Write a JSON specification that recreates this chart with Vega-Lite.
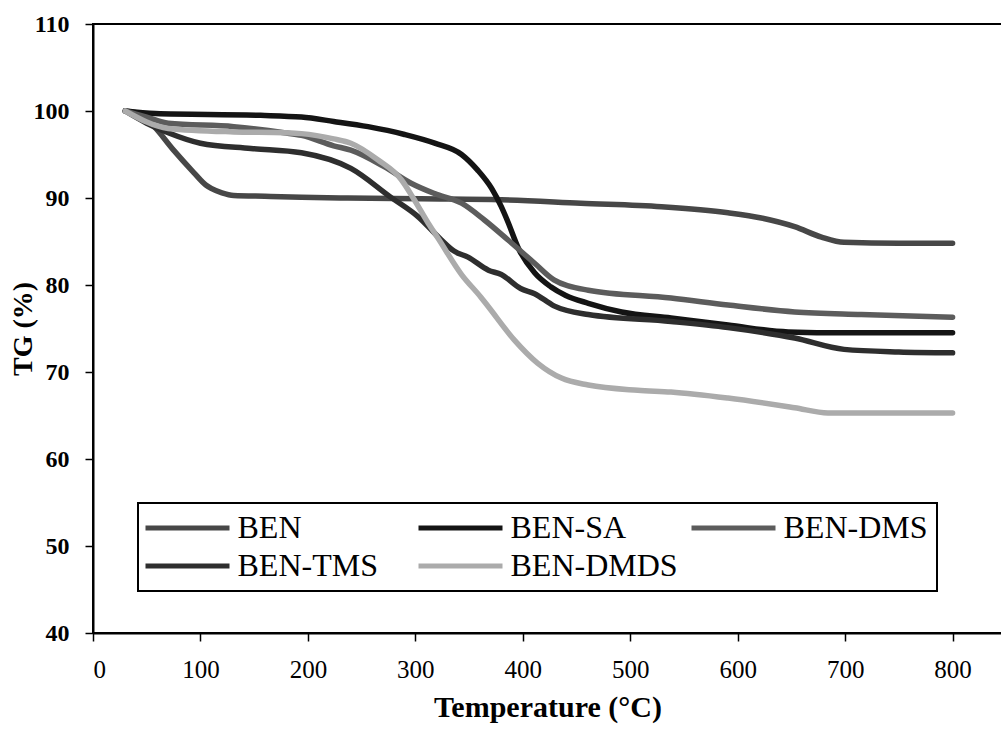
{
  "$schema": "https://vega.github.io/schema/vega-lite/v6.json",
  "width": 909,
  "height": 609,
  "autosize": "none",
  "padding": {"left": 93, "top": 24, "right": 0, "bottom": 97},
  "background": "white",
  "config": {
    "view": {"stroke": "black", "strokeWidth": 2},
    "font": "Liberation Serif"
  },
  "datasets": {
    "tg": [
      {"sample": "BEN", "T": 30, "TG": 100}, {"sample": "BEN", "T": 45, "TG": 99.6}, {"sample": "BEN", "T": 57, "TG": 98.2}, {"sample": "BEN", "T": 75, "TG": 95.5}, {"sample": "BEN", "T": 94, "TG": 92.9}, {"sample": "BEN", "T": 105, "TG": 91.5}, {"sample": "BEN", "T": 110, "TG": 91.1}, {"sample": "BEN", "T": 120, "TG": 90.6}, {"sample": "BEN", "T": 131, "TG": 90.3}, {"sample": "BEN", "T": 160, "TG": 90.2}, {"sample": "BEN", "T": 194, "TG": 90.1}, {"sample": "BEN", "T": 237, "TG": 90.0}, {"sample": "BEN", "T": 305, "TG": 89.9}, {"sample": "BEN", "T": 380, "TG": 89.8}, {"sample": "BEN", "T": 454, "TG": 89.4}, {"sample": "BEN", "T": 529, "TG": 89.0}, {"sample": "BEN", "T": 591, "TG": 88.3}, {"sample": "BEN", "T": 622, "TG": 87.7}, {"sample": "BEN", "T": 653, "TG": 86.7}, {"sample": "BEN", "T": 678, "TG": 85.5}, {"sample": "BEN", "T": 699, "TG": 84.9}, {"sample": "BEN", "T": 750, "TG": 84.8}, {"sample": "BEN", "T": 800, "TG": 84.8},
      {"sample": "BEN-SA", "T": 30, "TG": 100}, {"sample": "BEN-SA", "T": 58, "TG": 99.7}, {"sample": "BEN-SA", "T": 156, "TG": 99.5}, {"sample": "BEN-SA", "T": 194, "TG": 99.3}, {"sample": "BEN-SA", "T": 224, "TG": 98.8}, {"sample": "BEN-SA", "T": 256, "TG": 98.2}, {"sample": "BEN-SA", "T": 290, "TG": 97.3}, {"sample": "BEN-SA", "T": 318, "TG": 96.3}, {"sample": "BEN-SA", "T": 343, "TG": 95.0}, {"sample": "BEN-SA", "T": 358, "TG": 93.2}, {"sample": "BEN-SA", "T": 371, "TG": 91.1}, {"sample": "BEN-SA", "T": 380, "TG": 89.0}, {"sample": "BEN-SA", "T": 386, "TG": 87.3}, {"sample": "BEN-SA", "T": 396, "TG": 84.2}, {"sample": "BEN-SA", "T": 411, "TG": 81.4}, {"sample": "BEN-SA", "T": 426, "TG": 79.8}, {"sample": "BEN-SA", "T": 440, "TG": 78.8}, {"sample": "BEN-SA", "T": 461, "TG": 77.9}, {"sample": "BEN-SA", "T": 492, "TG": 76.9}, {"sample": "BEN-SA", "T": 538, "TG": 76.2}, {"sample": "BEN-SA", "T": 591, "TG": 75.4}, {"sample": "BEN-SA", "T": 647, "TG": 74.6}, {"sample": "BEN-SA", "T": 700, "TG": 74.5}, {"sample": "BEN-SA", "T": 800, "TG": 74.5},
      {"sample": "BEN-DMS", "T": 30, "TG": 100}, {"sample": "BEN-DMS", "T": 50, "TG": 99.3}, {"sample": "BEN-DMS", "T": 70, "TG": 98.6}, {"sample": "BEN-DMS", "T": 131, "TG": 98.2}, {"sample": "BEN-DMS", "T": 178, "TG": 97.5}, {"sample": "BEN-DMS", "T": 194, "TG": 97.2}, {"sample": "BEN-DMS", "T": 224, "TG": 96.0}, {"sample": "BEN-DMS", "T": 240, "TG": 95.5}, {"sample": "BEN-DMS", "T": 271, "TG": 93.6}, {"sample": "BEN-DMS", "T": 296, "TG": 91.7}, {"sample": "BEN-DMS", "T": 318, "TG": 90.5}, {"sample": "BEN-DMS", "T": 343, "TG": 89.4}, {"sample": "BEN-DMS", "T": 364, "TG": 87.5}, {"sample": "BEN-DMS", "T": 386, "TG": 85.2}, {"sample": "BEN-DMS", "T": 411, "TG": 82.5}, {"sample": "BEN-DMS", "T": 429, "TG": 80.6}, {"sample": "BEN-DMS", "T": 461, "TG": 79.4}, {"sample": "BEN-DMS", "T": 538, "TG": 78.5}, {"sample": "BEN-DMS", "T": 591, "TG": 77.7}, {"sample": "BEN-DMS", "T": 653, "TG": 76.9}, {"sample": "BEN-DMS", "T": 715, "TG": 76.6}, {"sample": "BEN-DMS", "T": 800, "TG": 76.3},
      {"sample": "BEN-TMS", "T": 30, "TG": 100}, {"sample": "BEN-TMS", "T": 50, "TG": 98.6}, {"sample": "BEN-TMS", "T": 70, "TG": 97.5}, {"sample": "BEN-TMS", "T": 100, "TG": 96.3}, {"sample": "BEN-TMS", "T": 147, "TG": 95.7}, {"sample": "BEN-TMS", "T": 194, "TG": 95.2}, {"sample": "BEN-TMS", "T": 240, "TG": 93.4}, {"sample": "BEN-TMS", "T": 277, "TG": 90.1}, {"sample": "BEN-TMS", "T": 303, "TG": 87.8}, {"sample": "BEN-TMS", "T": 324, "TG": 85.2}, {"sample": "BEN-TMS", "T": 336, "TG": 83.9}, {"sample": "BEN-TMS", "T": 349, "TG": 83.2}, {"sample": "BEN-TMS", "T": 368, "TG": 81.7}, {"sample": "BEN-TMS", "T": 380, "TG": 81.2}, {"sample": "BEN-TMS", "T": 398, "TG": 79.6}, {"sample": "BEN-TMS", "T": 411, "TG": 79.0}, {"sample": "BEN-TMS", "T": 429, "TG": 77.6}, {"sample": "BEN-TMS", "T": 461, "TG": 76.6}, {"sample": "BEN-TMS", "T": 538, "TG": 75.8}, {"sample": "BEN-TMS", "T": 591, "TG": 75.1}, {"sample": "BEN-TMS", "T": 653, "TG": 73.9}, {"sample": "BEN-TMS", "T": 699, "TG": 72.6}, {"sample": "BEN-TMS", "T": 750, "TG": 72.3}, {"sample": "BEN-TMS", "T": 800, "TG": 72.2},
      {"sample": "BEN-DMDS", "T": 30, "TG": 100}, {"sample": "BEN-DMDS", "T": 70, "TG": 98.0}, {"sample": "BEN-DMDS", "T": 131, "TG": 97.6}, {"sample": "BEN-DMDS", "T": 178, "TG": 97.5}, {"sample": "BEN-DMDS", "T": 194, "TG": 97.4}, {"sample": "BEN-DMDS", "T": 224, "TG": 96.8}, {"sample": "BEN-DMDS", "T": 240, "TG": 96.3}, {"sample": "BEN-DMDS", "T": 265, "TG": 94.4}, {"sample": "BEN-DMDS", "T": 287, "TG": 92.1}, {"sample": "BEN-DMDS", "T": 299, "TG": 89.8}, {"sample": "BEN-DMDS", "T": 312, "TG": 87.1}, {"sample": "BEN-DMDS", "T": 321, "TG": 85.4}, {"sample": "BEN-DMDS", "T": 343, "TG": 81.2}, {"sample": "BEN-DMDS", "T": 361, "TG": 78.6}, {"sample": "BEN-DMDS", "T": 368, "TG": 77.5}, {"sample": "BEN-DMDS", "T": 392, "TG": 73.7}, {"sample": "BEN-DMDS", "T": 414, "TG": 71.0}, {"sample": "BEN-DMDS", "T": 436, "TG": 69.3}, {"sample": "BEN-DMDS", "T": 461, "TG": 68.5}, {"sample": "BEN-DMDS", "T": 507, "TG": 67.9}, {"sample": "BEN-DMDS", "T": 538, "TG": 67.7}, {"sample": "BEN-DMDS", "T": 591, "TG": 67.0}, {"sample": "BEN-DMDS", "T": 653, "TG": 65.9}, {"sample": "BEN-DMDS", "T": 684, "TG": 65.3}, {"sample": "BEN-DMDS", "T": 800, "TG": 65.3}
    ]
  },
  "data": {"name": "tg"},
  "mark": {"type": "line", "strokeWidth": 5.5, "strokeCap": "round", "strokeJoin": "round", "interpolate": "monotone", "clip": true},
  "encoding": {
    "x": {
      "field": "T", "type": "quantitative",
      "scale": {"domain": [0, 846], "nice": false, "zero": false},
      "axis": {
        "values": [0, 100, 200, 300, 400, 500, 600, 700, 800],
        "title": "Temperature (°C)",
        "grid": false,
        "domainColor": "black", "domainWidth": 2,
        "tickColor": "black", "tickWidth": 1.5, "tickSize": 8,
        "labelFont": "Liberation Serif", "labelFontSize": 25, "labelColor": "black", "labelPadding": 16,
        "titleFont": "Liberation Serif", "titleFontSize": 30, "titleFontWeight": "bold", "titleColor": "black", "titlePadding": 10
      }
    },
    "y": {
      "field": "TG", "type": "quantitative",
      "scale": {"domain": [40, 110], "nice": false, "zero": false},
      "axis": {
        "values": [40, 50, 60, 70, 80, 90, 100, 110],
        "title": "TG (%)",
        "grid": false,
        "domainColor": "black", "domainWidth": 2,
        "tickColor": "black", "tickWidth": 1.5, "tickSize": 8,
        "labelFont": "Liberation Serif", "labelFontSize": 24, "labelFontWeight": "bold", "labelColor": "black", "labelPadding": 16,
        "titleFont": "Liberation Serif", "titleFontSize": 28, "titleFontWeight": "bold", "titleColor": "black", "titlePadding": -4
      }
    },
    "color": {
      "field": "sample", "type": "nominal",
      "scale": {
        "domain": ["BEN", "BEN-SA", "BEN-DMS", "BEN-TMS", "BEN-DMDS"],
        "range": ["#474747", "#141414", "#5c5c5c", "#2e2e2e", "#ababab"]
      },
      "legend": {
        "title": null,
        "orient": "none",
        "legendX": 45,
        "legendY": 479,
        "direction": "horizontal",
        "columns": 3,
        "gridAlign": "all",
        "columnPadding": 3,
        "rowPadding": 6,
        "padding": 9,
        "strokeColor": "black",
        "fillColor": "white",
        "symbolType": "M-4,0H4",
        "symbolSize": 441,
        "symbolOffset": 24.5,
        "symbolStrokeWidth": 5,
        "labelFont": "Liberation Serif",
        "labelFontSize": 32,
        "labelColor": "black",
        "labelOffset": 34,
        "labelLimit": 400,
        "encode": {"legend": {"update": {"strokeWidth": {"value": 2}}}}
      }
    }
  }
}
